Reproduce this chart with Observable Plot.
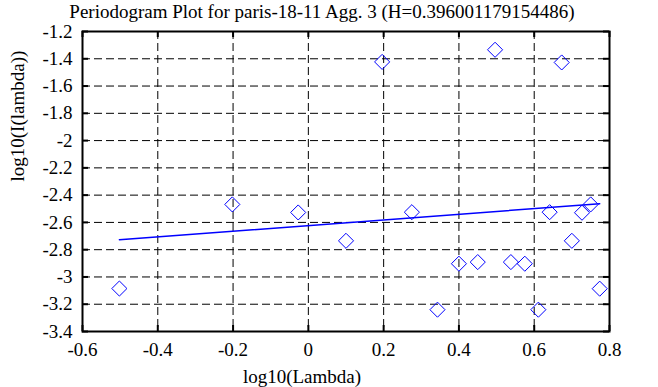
<!DOCTYPE html>
<html>
<head>
<meta charset="utf-8">
<script src="https://cdn.jsdelivr.net/npm/d3@7"></script>
<script src="https://cdn.jsdelivr.net/npm/@observablehq/plot@0.6"></script>
<style>
  html, body { margin: 0; padding: 0; background: white; }
</style>
</head>
<body>
<div id="chart"></div>
<script>
const titleText = "Periodogram Plot for paris-18-11 Agg. 3 (H=0.396001179154486)";
const xLabel = "log10(Lambda)";
const yLabel = "log10(I(lambda))";

// log10(Lambda) values of the periodogram points
const logLambda = [-0.502, -0.202, -0.027, 0.100, 0.196, 0.275, 0.343, 0.400, 0.450, 0.496,
                   0.538, 0.575, 0.611, 0.641, 0.673, 0.700, 0.727, 0.750, 0.774];
// log10(I(lambda)) values
const logI = [-3.085, -2.468, -2.527, -2.735, -1.423, -2.525, -3.240, -2.903, -2.891, -1.334,
              -2.891, -2.903, -3.240, -2.525, -1.427, -2.735, -2.529, -2.468, -3.086];

// fitted regression line endpoints
const fitX = [-0.502, 0.774];
const fitY = [-2.727, -2.463];

const xTicks = [-0.6, -0.4, -0.2, 0, 0.2, 0.4, 0.6, 0.8];
const yTicks = [-1.2, -1.4, -1.6, -1.8, -2, -2.2, -2.4, -2.6, -2.8, -3, -3.2, -3.4];

const points = logLambda.map((x, i) => ({x, y: logI[i]}));
const fit = fitX.map((x, i) => ({x, y: fitY[i]}));

const W = 658, H = 387;
const mL = 82, mR = 49, mT = 31, mB = 56;
const innerW = W - mL - mR, innerH = H - mT - mB;
const tickLen = 6;
const fs = 19;

const chart = Plot.plot({
  width: W,
  height: H,
  marginLeft: mL,
  marginRight: mR,
  marginTop: mT,
  marginBottom: mB,
  style: {fontFamily: "'Liberation Serif', 'Times New Roman', serif", fontSize: fs + "px", background: "white", color: "black"},
  x: {domain: [-0.6, 0.8]},
  y: {domain: [-3.4, -1.2]},
  marks: [
    // dashed grid
    Plot.ruleX(xTicks.slice(1, -1), {x: d => d, stroke: "black", strokeWidth: 1, strokeDasharray: "8,4"}),
    Plot.ruleY(yTicks.slice(1, -1), {y: d => d, stroke: "black", strokeWidth: 1, strokeDasharray: "8,4"}),
    // inward ticks on all four sides
    Plot.ruleX(xTicks, {x: d => d, insetTop: innerH - tickLen, stroke: "black", strokeWidth: 2}),
    Plot.ruleX(xTicks, {x: d => d, insetBottom: innerH - tickLen, stroke: "black", strokeWidth: 2}),
    Plot.ruleY(yTicks, {y: d => d, insetRight: innerW - tickLen, stroke: "black", strokeWidth: 2}),
    Plot.ruleY(yTicks, {y: d => d, insetLeft: innerW - tickLen, stroke: "black", strokeWidth: 2}),
    Plot.frame({stroke: "black", strokeWidth: 2}),
    // regression line
    Plot.line(fit, {x: "x", y: "y", stroke: "blue", strokeWidth: 1.5}),
    // periodogram points
    Plot.dot(points, {x: "x", y: "y", symbol: "diamond2", r: 6.8, stroke: "blue", strokeWidth: 1, fill: "none"}),
    // axes
    Plot.axisX({ticks: xTicks, tickSize: 0, tickPadding: 11, tickFormat: d => String(d), label: null, fill: "black", fontSize: fs}),
    Plot.axisY({ticks: yTicks, tickSize: 0, tickPadding: 10, tickFormat: d => String(d), label: null, fill: "black", fontSize: fs}),
    // title and axis labels
    Plot.text([titleText], {frameAnchor: "top", dx: -24, dy: -20, lineAnchor: "middle", fill: "black", fontSize: fs}),
    Plot.text([xLabel], {frameAnchor: "bottom", dx: -44, dy: 45, lineAnchor: "middle", fill: "black", fontSize: fs}),
    Plot.text([yLabel], {frameAnchor: "left", dx: -65, rotate: -90, lineAnchor: "middle", fill: "black", fontSize: fs})
  ]
});
document.getElementById("chart").appendChild(chart);
</script>
</body>
</html>
